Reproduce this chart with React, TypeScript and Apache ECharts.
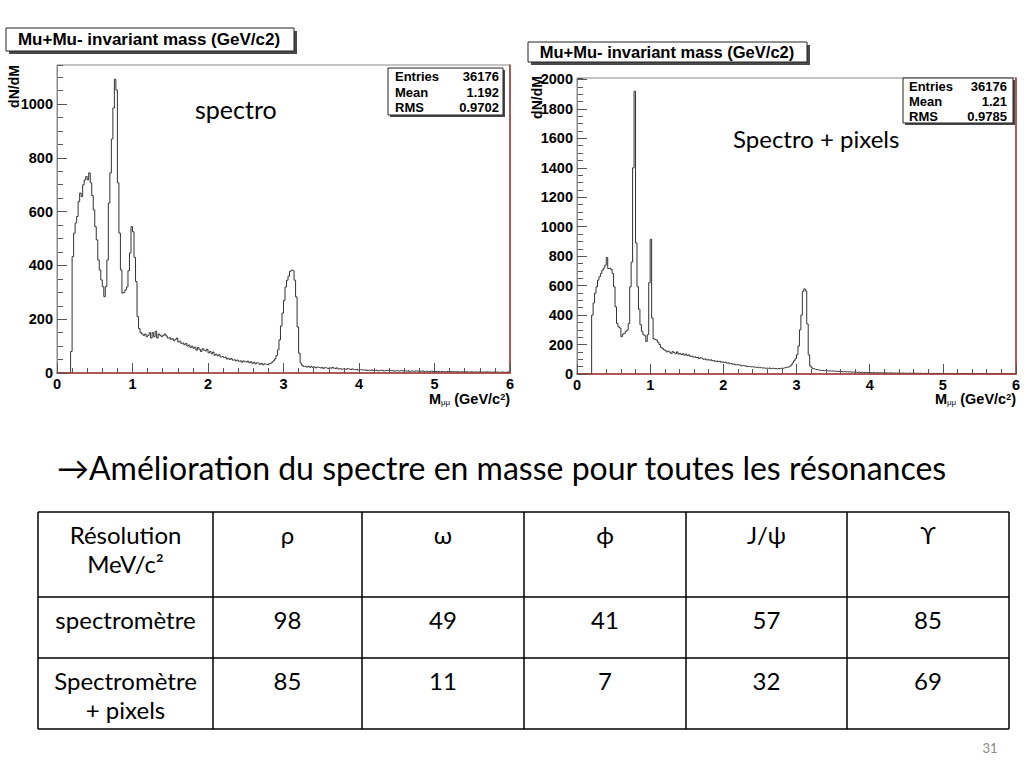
import React, { useEffect, useRef } from "react";
import * as echarts from "echarts";

// ---------- data ----------
const BIN_WIDTH = 0.02; // GeV/c2 per histogram bin, bins from 0 to 6
const X_MIN = 0;
const X_MAX = 6;

// "spectro" histogram (dN/dM per 0.02 GeV bin)
const SPECTRO = [
  0, 0, 0, 0, 0, 0, 0, 0, 0, 80,
  433, 520, 558, 582, 637, 669, 656, 700, 718, 730,
  718, 744, 707, 660, 606, 544, 495, 420, 383, 346,
  321, 284, 321, 420, 632, 744, 870, 985, 1092, 1052,
  707, 520, 383, 297, 300, 309, 320, 380, 446, 544,
  525, 430, 340, 210, 165, 150, 145, 140, 145, 135,
  140, 150, 130, 150, 135, 155, 130, 145, 140, 135,
  140, 145, 138, 130, 132, 125, 128, 120, 124, 130,
  115, 118, 110, 112, 105, 110, 100, 104, 95, 100,
  92, 96, 85, 95, 88, 80, 90, 85, 82, 88,
  75, 80, 72, 78, 66, 70, 64, 68, 60, 62,
  58, 60, 52, 55, 50, 54, 48, 50, 45, 48,
  44, 46, 40, 45, 42, 40, 44, 38, 42, 36,
  40, 34, 38, 36, 32, 36, 30, 34, 32, 30,
  34, 36, 40, 45, 52, 65, 86, 123, 175, 223,
  270, 320, 345, 360, 378, 382, 380, 345, 283, 171,
  74, 37, 28, 24, 26, 22, 25, 21, 24, 20,
  23, 19, 22, 20, 18, 21, 17, 20, 18, 16,
  19, 17, 21, 18, 16, 19, 15, 17, 14, 16,
  15, 13, 16, 14, 12, 15, 13, 12, 14, 11,
  13, 11, 12, 10, 12, 9, 11, 10, 12, 9,
  10, 11, 8, 10, 9, 11, 8, 9, 10, 8,
  9, 8, 10, 7, 9, 8, 7, 9, 8, 7,
  8, 7, 9, 6, 8, 7, 6, 8, 7, 6,
  7, 6, 8, 5, 7, 6, 5, 7, 6, 5,
  6, 5, 7, 4, 6, 5, 4, 6, 5, 4,
  5, 6, 4, 5, 4, 6, 3, 5, 4, 5,
  4, 5, 3, 4, 5, 3, 4, 4, 3, 5,
  4, 3, 4, 3, 5, 3, 4, 2, 4, 3,
  3, 4, 2, 3, 4, 3, 2, 3, 4, 2,
];

// "Spectro + pixels" histogram
const SPECTRO_PIXELS = [
  0, 0, 0, 0, 0, 0, 0, 0, 0, 0,
  400, 483, 549, 592, 637, 660, 683, 705, 720, 739,
  791, 716, 720, 710, 683, 592, 456, 343, 320, 312,
  253, 270, 276, 290, 298, 343, 592, 760, 1400, 1920,
  890, 592, 440, 335, 290, 267, 260, 221, 267, 620,
  915, 380, 240, 235, 230, 215, 200, 180, 175, 165,
  160, 150, 155, 148, 140, 152, 145, 138, 150, 135,
  140, 132, 138, 128, 135, 125, 130, 120, 122, 115,
  118, 112, 115, 105, 110, 108, 100, 104, 96, 100,
  94, 98, 90, 92, 86, 90, 84, 88, 80, 84,
  78, 82, 74, 76, 70, 72, 66, 68, 62, 64,
  60, 62, 56, 58, 54, 56, 50, 52, 48, 50,
  46, 48, 44, 46, 42, 44, 40, 42, 38, 40,
  38, 42, 36, 40, 36, 38, 34, 38, 36, 40,
  38, 42, 44, 46, 48, 52, 60, 75, 90, 105,
  130, 190, 300, 400, 560, 578, 565, 340, 130, 55,
  42, 36, 32, 30, 28, 26, 24, 25, 22, 24,
  22, 20, 23, 19, 21, 18, 20, 17, 19, 16,
  18, 15, 17, 14, 16, 13, 15, 12, 14, 12,
  13, 11, 12, 10, 12, 9, 11, 10, 9, 10,
  9, 8, 10, 7, 9, 8, 7, 9, 8, 6,
  8, 7, 6, 8, 7, 6, 7, 5, 7, 6,
  6, 5, 7, 5, 6, 4, 6, 5, 4, 6,
  5, 4, 6, 4, 5, 4, 3, 5, 4, 4,
  5, 3, 4, 4, 3, 5, 3, 4, 3, 4,
  3, 4, 3, 2, 4, 3, 3, 2, 4, 3,
  3, 2, 3, 3, 2, 4, 2, 3, 2, 3,
  2, 3, 2, 2, 3, 2, 3, 2, 2, 3,
  2, 2, 3, 1, 2, 2, 3, 2, 1, 2,
  2, 1, 2, 2, 1, 2, 1, 2, 2, 1,
];

const Y_MAX_LEFT = 1145;
const Y_MAX_RIGHT = 2010;
const Y_MAJOR = 200;
const Y_MINOR = 50;
const X_MAJOR = 1;
const X_MINOR = 0.2;

const HIST_TITLE = "Mu+Mu- invariant mass (GeV/c2)";
const STATS_LEFT = [["Entries", "36176"], ["Mean", "1.192"], ["RMS", "0.9702"]];
const STATS_RIGHT = [["Entries", "36176"], ["Mean", "1.21"], ["RMS", "0.9785"]];
const LABEL_LEFT = "spectro";
const LABEL_RIGHT = "Spectro + pixels";
const HEADING = "→Amélioration du spectre en masse pour toutes les résonances";

const TABLE_HEAD_LABEL = ["Résolution", "MeV/c²"];
const TABLE_RESONANCES = ["ρ", "ω", "ϕ", "J/ψ", "ϒ"];
const ROW1_LABEL = ["spectromètre"];
const ROW1_VALUES = [98, 49, 41, 57, 85];
const ROW2_LABEL = ["Spectromètre", "+ pixels"];
const ROW2_VALUES = [85, 11, 7, 32, 69];
const PAGE_NUMBER = "31";

// ---------- style ----------
const ROOT_FONT = "'Liberation Sans', Arial, Helvetica, sans-serif";
const SLIDE_FONT = "Lato, 'Noto Sans', 'DejaVu Sans', sans-serif";
const RED = "#a83434";
const FRAME = "#8a8a8a";
const TICK = "#555555";
const HIST = "#333333";
const TICK_FS = 14.5;

function toSteps(vals: number[]) {
  const pts: number[][] = vals.map((v, i) => [+(i * BIN_WIDTH).toFixed(2), v]);
  pts.push([X_MAX, vals[vals.length - 1]]);
  return pts;
}

const plain = (v: number) => String(v);

function xAxes(gridIndex: number) {
  return [
    {
      gridIndex, type: "value", position: "bottom", min: X_MIN, max: X_MAX, interval: X_MAJOR, z: 5,
      axisLine: { show: true, onZero: false, lineStyle: { color: RED, width: 1.5 } },
      axisTick: { show: true, inside: true, length: 10, lineStyle: { color: TICK } },
      axisLabel: { show: true, margin: 3, formatter: plain, color: "#000", fontFamily: ROOT_FONT, fontWeight: "bold", fontSize: TICK_FS },
      splitLine: { show: false },
    },
    {
      gridIndex, type: "value", position: "bottom", min: X_MIN, max: X_MAX, interval: X_MINOR, z: 4,
      axisLine: { show: false },
      axisTick: { show: true, inside: true, length: 5, lineStyle: { color: TICK } },
      axisLabel: { show: false },
      splitLine: { show: false },
    },
  ];
}

function yAxes(gridIndex: number, yMax: number) {
  return [
    {
      gridIndex, type: "value", position: "left", min: 0, max: yMax, interval: Y_MAJOR, z: 5,
      axisLine: { show: true, lineStyle: { color: FRAME, width: 1 } },
      axisTick: { show: true, inside: true, length: 10, lineStyle: { color: TICK } },
      axisLabel: { show: true, margin: 4, showMaxLabel: false, formatter: plain, color: "#000", fontFamily: ROOT_FONT, fontWeight: "bold", fontSize: TICK_FS },
      splitLine: { show: false },
    },
    {
      gridIndex, type: "value", position: "left", min: 0, max: yMax, interval: Y_MINOR, z: 4,
      axisLine: { show: false },
      axisTick: { show: true, inside: true, length: 6, lineStyle: { color: TICK } },
      axisLabel: { show: false },
      splitLine: { show: false },
    },
    {
      gridIndex, type: "value", position: "right", min: 0, max: yMax, z: 5,
      axisLine: { show: true, lineStyle: { color: RED, width: 1.5 } },
      axisTick: { show: false },
      axisLabel: { show: false },
      splitLine: { show: false },
    },
  ];
}

function titleBox(x: number, y: number, w: number, h: number, fs: number, tx: number) {
  return [
    { type: "rect", shape: { x: x + 3, y: y + 3, width: w, height: h }, style: { fill: "#4a4a4a" } },
    { type: "rect", shape: { x, y, width: w, height: h }, style: { fill: "#fff", stroke: "#222", lineWidth: 1 } },
    {
      type: "text", x: tx, y: y + h / 2,
      style: { text: HIST_TITLE, fill: "#000", fontFamily: ROOT_FONT, fontWeight: "bold", fontSize: fs, align: "center", verticalAlign: "middle" },
    },
  ];
}

function statsBox(x: number, y: number, w: number, h: number, rows: string[][], rowYs: number[], lx: number, rx: number) {
  const els: any[] = [
    { type: "rect", shape: { x: x + 2, y: y + 2, width: w, height: h }, style: { fill: "#4a4a4a" } },
    { type: "rect", shape: { x, y, width: w, height: h }, style: { fill: "#fff", stroke: "#222", lineWidth: 1 } },
  ];
  rows.forEach((r, i) => {
    els.push({
      type: "text", x: lx, y: rowYs[i],
      style: { text: r[0], fill: "#000", fontFamily: ROOT_FONT, fontWeight: "bold", fontSize: 13, align: "left", verticalAlign: "middle" },
    });
    els.push({
      type: "text", x: rx, y: rowYs[i],
      style: { text: r[1], fill: "#000", fontFamily: ROOT_FONT, fontWeight: "bold", fontSize: 13, align: "right", verticalAlign: "middle" },
    });
  });
  return els;
}

function axisName(x: number, y: number) {
  return {
    type: "text", x, y,
    style: {
      text: "{m|M}{s|μμ}{m| (GeV/c}{p|2}{m|)}",
      align: "right", verticalAlign: "middle",
      rich: {
        m: { fontFamily: ROOT_FONT, fontWeight: "bold", fontSize: 14.5, lineHeight: 14, fill: "#000", verticalAlign: "middle" },
        s: { fontFamily: ROOT_FONT, fontWeight: "normal", fontSize: 8, lineHeight: 14, fill: "#000", verticalAlign: "bottom" },
        p: { fontFamily: ROOT_FONT, fontWeight: "bold", fontSize: 9, lineHeight: 14, fill: "#000", verticalAlign: "top" },
      },
    },
  };
}

function yName(x: number, y: number) {
  return {
    type: "text", x, y, rotation: Math.PI / 2,
    style: { text: "dN/dM", fill: "#000", fontFamily: ROOT_FONT, fontWeight: "bold", fontSize: 14, align: "center", verticalAlign: "middle" },
  };
}

function slideText(text: string, x: number, y: number, fs: number, align = "center", fill = "#000") {
  return {
    type: "text", x, y,
    style: { text, fill, fontFamily: SLIDE_FONT, fontSize: fs, align, verticalAlign: "middle" },
  };
}

function tableGraphics() {
  const cols = [38, 213, 362, 524, 686, 847, 1009];
  const rows = [512, 597, 658, 729];
  const els: any[] = [];
  rows.forEach((y) => els.push({ type: "line", shape: { x1: cols[0], y1: y, x2: cols[cols.length - 1], y2: y }, style: { stroke: "#000", lineWidth: 1.5 } }));
  cols.forEach((x) => els.push({ type: "line", shape: { x1: x, y1: rows[0], x2: x, y2: rows[rows.length - 1] }, style: { stroke: "#000", lineWidth: 1.5 } }));
  const center = (i: number) => (cols[i] + cols[i + 1]) / 2;
  const LH = 29;
  const FS = 24;
  const firstLine = (r: number) => rows[r] + 22;
  const rowsContent: [string[], (string | number)[]][] = [
    [TABLE_HEAD_LABEL, TABLE_RESONANCES],
    [ROW1_LABEL, ROW1_VALUES],
    [ROW2_LABEL, ROW2_VALUES],
  ];
  rowsContent.forEach(([label, vals], r) => {
    label.forEach((line, k) => els.push(slideText(line, center(0), firstLine(r) + k * LH, FS)));
    vals.forEach((v, c) => els.push(slideText(String(v), center(c + 1), firstLine(r), FS)));
  });
  return els;
}

function buildOption() {
  const graphic: any[] = [
    ...titleBox(6, 28, 288, 23, 17, 149),
    ...titleBox(528, 42, 279, 20, 16.5, 667),
    ...statsBox(388, 68, 115, 47, STATS_LEFT, [76.5, 92, 107.5], 395, 499),
    ...statsBox(903, 78, 110, 45, STATS_RIGHT, [86, 101, 116], 909, 1007),
    slideText(LABEL_LEFT, 195, 109, 25, "left"),
    slideText(LABEL_RIGHT, 733, 138, 24, "left"),
    yName(14, 86.5),
    yName(537, 97.5),
    axisName(510, 399),
    axisName(1016, 399),
    slideText(HEADING, 57, 467, 32, "left"),
    ...tableGraphics(),
    slideText(PAGE_NUMBER, 990, 748, 13, "center", "#8a8a8a"),
  ];

  return {
    animation: false,
    backgroundColor: "#ffffff",
    grid: [
      { left: 57, top: 65, width: 453, height: 308, show: true, borderColor: FRAME, borderWidth: 1, backgroundColor: "transparent" },
      { left: 577, top: 78, width: 439, height: 296, show: true, borderColor: FRAME, borderWidth: 1, backgroundColor: "transparent" },
    ],
    xAxis: [...xAxes(0), ...xAxes(1)],
    yAxis: [...yAxes(0, Y_MAX_LEFT), ...yAxes(1, Y_MAX_RIGHT)],
    series: [
      {
        type: "line", name: "spectro", xAxisIndex: 0, yAxisIndex: 0, step: "end", showSymbol: false, symbol: "none", z: 2,
        lineStyle: { color: HIST, width: 1 }, data: toSteps(SPECTRO),
      },
      {
        type: "line", name: "spectro+pixels", xAxisIndex: 2, yAxisIndex: 3, step: "end", showSymbol: false, symbol: "none", z: 2,
        lineStyle: { color: HIST, width: 1 }, data: toSteps(SPECTRO_PIXELS),
      },
    ],
    graphic,
  };
}

export default function App() {
  const ref = useRef<HTMLDivElement>(null);
  useEffect(() => {
    if (!ref.current) return;
    const chart = echarts.init(ref.current, null, { renderer: "svg" });
    chart.setOption(buildOption() as any);
    return () => chart.dispose();
  }, []);
  return (
    <div
      ref={ref}
      style={{ position: "absolute", left: 0, top: 0, width: 1024, height: 768, background: "#fff" }}
    />
  );
}
